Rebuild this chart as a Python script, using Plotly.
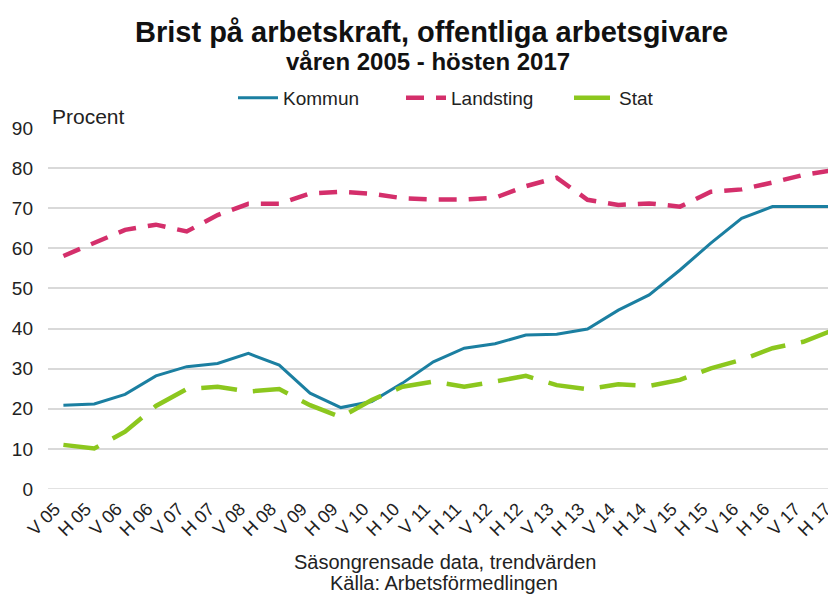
import plotly.graph_objects as go

periods = ["V 05","H 05","V 06","H 06","V 07","H 07","V 08","H 08","V 09","H 09",
           "V 10","H 10","V 11","H 11","V 12","H 12","V 13","H 13","V 14","H 14",
           "V 15","H 15","V 16","H 16","V 17","H 17"]
kommun = [20.9,21.2,23.6,28.2,30.5,31.3,33.8,30.9,23.9,20.3,
          21.8,26.4,31.7,35.1,36.2,38.4,38.6,39.9,44.6,48.4,
          54.6,61.3,67.5,70.4,70.4,70.4]
landsting = [58.1,61.2,64.6,65.9,64.2,68.3,71.1,71.1,73.7,74.1,
             73.6,72.5,72.2,72.2,72.6,75.5,77.6,72.1,70.8,71.2,
             70.4,74.1,74.7,76.4,78.3,79.5]
stat = [11.0,10.1,14.3,20.7,24.9,25.5,24.3,24.9,20.9,17.9,
        22.2,25.5,26.8,25.5,26.8,28.2,25.9,24.9,26.1,25.7,
        27.2,30.1,32.2,35.1,36.7,39.7]
yticks = [0,10,20,30,40,50,60,70,80,90]

FONT = "Liberation Sans, Arial, sans-serif"
GRID = "#d9d9d9"

# the page body adds an 8px margin, so the figure is drawn 8px smaller
OFF = 8
W, H = 836 - OFF, 597 - OFF
L, R, T = 48 - OFF, 0, 128 - OFF
B = H - (489 - OFF)
PW, PH = W - L - R, H - T - B

def px(x):
    return (x - OFF - L) / PW

def py(y):
    return (H - B - (y - OFF)) / PH

XR = [-0.5, 25.06]
SHIFT = 0.27  # rotated labels end at their tick, as in the original

fig = go.Figure()
fig.add_trace(go.Scatter(x=periods, y=kommun, name="Kommun", mode="lines",
                         line=dict(color="#1b7fa1", width=3)))
fig.add_trace(go.Scatter(x=periods, y=landsting, name="Landsting", mode="lines",
                         line=dict(color="#d42f6b", width=4.5, dash="18px,12px")))
fig.add_trace(go.Scatter(x=periods, y=stat, name="Stat", mode="lines",
                         line=dict(color="#8cc71e", width=4.5, dash="36px,16px")))
# invisible helper trace so the label axis is drawn
fig.add_trace(go.Scatter(x=list(range(len(periods))), y=kommun, xaxis="x2", yaxis="y",
                         mode="lines", line=dict(width=0, color="rgba(0,0,0,0)"),
                         showlegend=False, hoverinfo="skip"))

# baseline gridline at 0
fig.add_hline(y=yticks[0], line=dict(color=GRID, width=1.5), layer="below")

fig.update_layout(
    width=W, height=H,
    margin=dict(l=L, r=R, t=T, b=B, autoexpand=False),
    paper_bgcolor="white", plot_bgcolor="white",
    font=dict(family=FONT, color="#222222"),
    showlegend=True,
    legend=dict(orientation="h", x=px(233), xanchor="left", y=py(98), yanchor="middle",
                font=dict(size=19, family=FONT, color="#222"), bgcolor="rgba(0,0,0,0)",
                entrywidth=113, entrywidthmode="pixels", itemwidth=40, traceorder="normal"),
    xaxis=dict(type="category", range=XR, automargin=False, showticklabels=False,
               showgrid=False, showline=False, ticks=""),
    xaxis2=dict(overlaying="x", anchor="y", side="bottom", type="linear",
                range=[XR[0] + SHIFT, XR[1] + SHIFT],
                tickvals=list(range(len(periods))), ticktext=periods,
                tickangle=-45, automargin=False,
                tickfont=dict(size=18, family=FONT, color="#222"), showgrid=False,
                zeroline=False, showline=False, ticks="", ticklabelstandoff=5),
    yaxis=dict(range=[0, 90], tickvals=yticks, automargin=False,
               tickfont=dict(size=19, family=FONT, color="#222"),
               gridcolor=GRID, gridwidth=1.5, zeroline=False, showline=False, ticks="",
               ticklabelstandoff=14),
)

fig.add_annotation(text="<b>Brist på arbetskraft, offentliga arbetsgivare</b>",
                   xref="paper", yref="paper", x=px(431), y=py(32), yanchor="middle",
                   showarrow=False, font=dict(size=29, family=FONT, color="#111"))
fig.add_annotation(text="<b>våren 2005 - hösten 2017</b>", xref="paper", yref="paper",
                   x=px(428), y=py(62), yanchor="middle", showarrow=False,
                   font=dict(size=24, family=FONT, color="#111"))
fig.add_annotation(text="Procent", xref="paper", yref="paper", x=px(50), xanchor="left",
                   y=py(116), yanchor="middle", showarrow=False,
                   font=dict(size=21, family=FONT, color="#222"))
fig.add_annotation(text="Säsongrensade data, trendvärden", xref="paper", yref="paper",
                   x=px(445), y=py(562), yanchor="middle", showarrow=False,
                   font=dict(size=20, family=FONT, color="#222"))
fig.add_annotation(text="Källa: Arbetsförmedlingen", xref="paper", yref="paper",
                   x=px(444), y=py(583), yanchor="middle", showarrow=False,
                   font=dict(size=20, family=FONT, color="#222"))

fig.write_html("out.html")
